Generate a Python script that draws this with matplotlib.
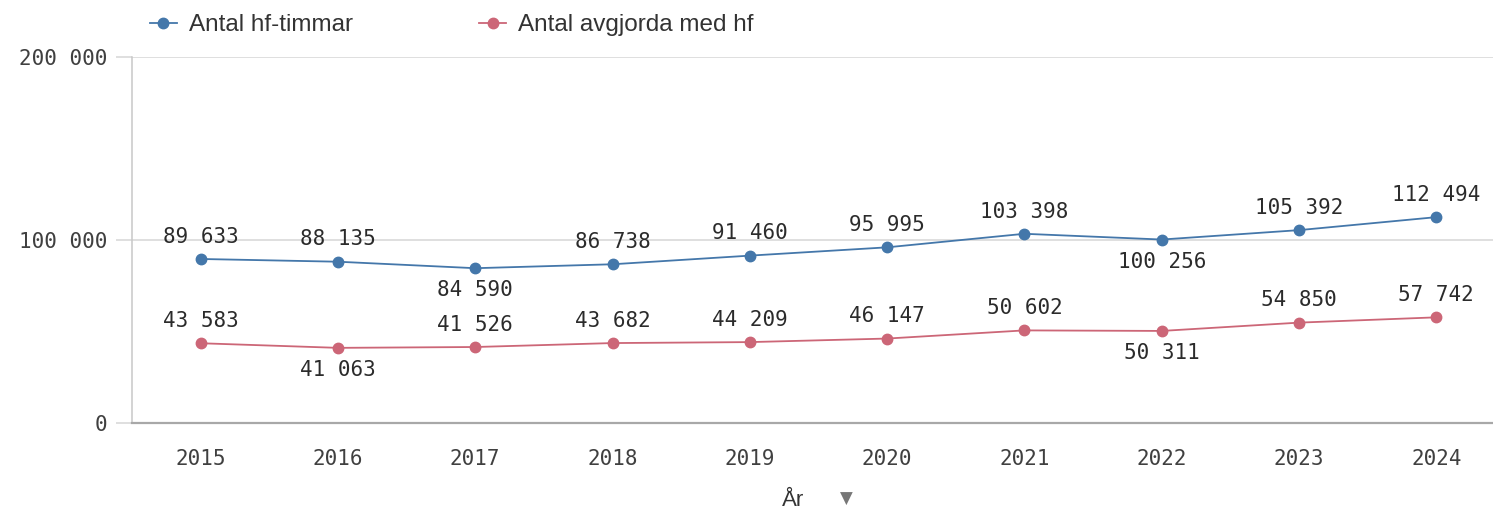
import numpy as np
import matplotlib.pyplot as plt
from matplotlib.ticker import FuncFormatter

#%% Data
years = ['2015', '2016', '2017', '2018', '2019', '2020', '2021', '2022', '2023', '2024']
hf_timmar = [89633, 88135, 84590, 86738, 91460, 95995, 103398, 100256, 105392, 112494]
avgjorda = [43583, 41063, 41526, 43682, 44209, 46147, 50602, 50311, 54850, 57742]
# label placement: True = above the point
hf_above = [True, True, False, True, True, True, True, False, True, True]
avg_above = [True, False, True, True, True, True, True, False, True, True]

blue = '#4477aa'
red = '#cc6677'
grid_col = '#d6d6d6'
text_col = '#404040'

def fmt(v):
    return '{:,}'.format(int(v)).replace(',', ' ')

#%% Plot
fig = plt.figure(figsize=(14.93, 5.09), dpi=100)
ax = fig.add_axes([132/1493, 86/509, 1373/1493, 366/509])

x = np.arange(len(years))
l1, = ax.plot(x, hf_timmar, '-o', color=blue, lw=1.3, ms=7.5, label='Antal hf-timmar')
l2, = ax.plot(x, avgjorda, '-o', color=red, lw=1.3, ms=7.5, label='Antal avgjorda med hf')

for xs, ys, above in [(x, hf_timmar, hf_above), (x, avgjorda, avg_above)]:
    for xi, yi, ab in zip(xs, ys, above):
        ax.annotate(fmt(yi), (xi, yi), xytext=(0, 16 if ab else -16), textcoords='offset points',
                    ha='center', va='center', fontsize=15, family='DejaVu Sans Mono',
                    color='#2b2b2b')

ax.set_xlim(-0.5, 9.5)
ax.set_ylim(0, 200000)
ax.set_yticks([0, 100000, 200000])
ax.yaxis.set_major_formatter(FuncFormatter(lambda v, p: fmt(v)))
ax.set_xticks(x)
ax.set_xticklabels(years)

for lbl in ax.get_xticklabels() + ax.get_yticklabels():
    lbl.set_family('DejaVu Sans Mono')
    lbl.set_fontsize(15)
    lbl.set_color(text_col)

ax.tick_params(axis='y', length=11.5, width=1.1, color=grid_col, pad=6)
ax.tick_params(axis='x', length=0, pad=19)
ax.grid(axis='y', color=grid_col, lw=1.1, zorder=0)
ax.set_axisbelow(True)
for s in ['top', 'right']:
    ax.spines[s].set_visible(False)
ax.spines['left'].set_color('#c8c8c8')
ax.spines['left'].set_linewidth(1.1)
ax.spines['bottom'].set_color('#a8a8a8')
ax.spines['bottom'].set_linewidth(1.6)

# x-axis title with dropdown arrow
fig.text(793/1493, 1 - 500/509, 'År', ha='center', va='center', fontsize=16,
         family='Liberation Sans', color='#333333')
fig.text(846/1493, 1 - 499/509, '▼', ha='center', va='center', fontsize=12,
         family='DejaVu Sans', color='#777777')

leg = fig.legend(handles=[l1, l2], loc='center left', bbox_to_anchor=(150/1493, 1 - 25/509),
                 ncol=2, frameon=False, borderpad=0, borderaxespad=0,
                 handlelength=1.1, handletextpad=0.5, columnspacing=5.2,
                 prop={'family': 'Liberation Sans', 'size': 17.5})
for t in leg.get_texts():
    t.set_color('#333333')

plt.savefig('out.png', dpi=100)
